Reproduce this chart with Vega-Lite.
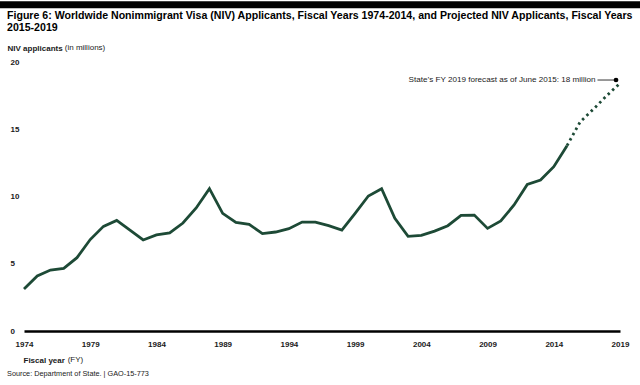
{
  "$schema": "https://vega.github.io/schema/vega-lite/v6.json",
  "width": 596,
  "height": 269,
  "autosize": {"type": "none"},
  "padding": {"left": 24, "top": 62, "right": 20, "bottom": 54},
  "background": "white",
  "config": {
    "view": {"stroke": null},
    "font": "Liberation Sans"
  },
  "title": {
    "text": ["Figure 6: Worldwide Nonimmigrant Visa (NIV) Applicants, Fiscal Years 1974-2014, and Projected NIV Applicants, Fiscal Years", "2015-2019"],
    "anchor": "start",
    "frame": "group",
    "dx": -17,
    "dy": 46,
    "offset": 14,
    "fontSize": 10.6,
    "fontWeight": "bold",
    "lineHeight": 11.5,
    "color": "#000000",
    "font": "Liberation Sans"
  },
  "datasets": {
    "niv": [
      {"year": 1974, "value": 3.12, "type": "actual"},
      {"year": 1975, "value": 4.09, "type": "actual"},
      {"year": 1976, "value": 4.53, "type": "actual"},
      {"year": 1977, "value": 4.66, "type": "actual"},
      {"year": 1978, "value": 5.45, "type": "actual"},
      {"year": 1979, "value": 6.8, "type": "actual"},
      {"year": 1980, "value": 7.78, "type": "actual"},
      {"year": 1981, "value": 8.22, "type": "actual"},
      {"year": 1982, "value": 7.5, "type": "actual"},
      {"year": 1983, "value": 6.77, "type": "actual"},
      {"year": 1984, "value": 7.14, "type": "actual"},
      {"year": 1985, "value": 7.29, "type": "actual"},
      {"year": 1986, "value": 8.03, "type": "actual"},
      {"year": 1987, "value": 9.15, "type": "actual"},
      {"year": 1988, "value": 10.58, "type": "actual"},
      {"year": 1989, "value": 8.75, "type": "actual"},
      {"year": 1990, "value": 8.08, "type": "actual"},
      {"year": 1991, "value": 7.93, "type": "actual"},
      {"year": 1992, "value": 7.24, "type": "actual"},
      {"year": 1993, "value": 7.36, "type": "actual"},
      {"year": 1994, "value": 7.61, "type": "actual"},
      {"year": 1995, "value": 8.1, "type": "actual"},
      {"year": 1996, "value": 8.1, "type": "actual"},
      {"year": 1997, "value": 7.83, "type": "actual"},
      {"year": 1998, "value": 7.5, "type": "actual"},
      {"year": 1999, "value": 8.75, "type": "actual"},
      {"year": 2000, "value": 10.04, "type": "actual"},
      {"year": 2001, "value": 10.58, "type": "actual"},
      {"year": 2002, "value": 8.38, "type": "actual"},
      {"year": 2003, "value": 7.04, "type": "actual"},
      {"year": 2004, "value": 7.11, "type": "actual"},
      {"year": 2005, "value": 7.43, "type": "actual"},
      {"year": 2006, "value": 7.83, "type": "actual"},
      {"year": 2007, "value": 8.6, "type": "actual"},
      {"year": 2008, "value": 8.62, "type": "actual"},
      {"year": 2009, "value": 7.63, "type": "actual"},
      {"year": 2010, "value": 8.18, "type": "actual"},
      {"year": 2011, "value": 9.37, "type": "actual"},
      {"year": 2012, "value": 10.9, "type": "actual"},
      {"year": 2013, "value": 11.23, "type": "actual"},
      {"year": 2014, "value": 12.22, "type": "actual"},
      {"year": 2015, "value": 13.78, "type": "actual"},
      {"year": 2015, "value": 13.78, "type": "projected"},
      {"year": 2016, "value": 15.56, "type": "projected"},
      {"year": 2017, "value": 16.5, "type": "projected"},
      {"year": 2018, "value": 17.5, "type": "projected"},
      {"year": 2019, "value": 18.42, "type": "projected"}
    ],
    "forecast": [
      {"year": 2018.7, "value": 18.66, "label_year": 2017.15, "leader_start": 2017.3, "label": "State’s FY 2019 forecast as of June 2015: 18 million"}
    ],
    "notes": [
      {"year": 1977.3, "value": -2.15, "text": "(FY)", "size": 8},
      {"year": 1977.08, "value": 21.04, "text": "(in millions)", "size": 8},
      {"year": 1972.72, "value": -3.2, "text": "Source: Department of State.  |  GAO-15-773", "size": 7.3}
    ],
    "band": [
      {"x1": 1972.1, "x2": 2020.6, "value": 24.25}
    ]
  },
  "layer": [
    {
      "data": {"name": "band"},
      "mark": {"type": "rule", "color": "#000000", "strokeWidth": 7, "clip": false},
      "encoding": {
        "x": {"field": "x1", "type": "quantitative", "scale": {"domain": [1974, 2019], "nice": false, "zero": false}},
        "x2": {"field": "x2"},
        "y": {"field": "value", "type": "quantitative", "scale": {"domain": [0, 20], "nice": false}}
      }
    },
    {
      "data": {"name": "niv"},
      "transform": [{"filter": "datum.type === 'actual'"}],
      "mark": {"type": "line", "color": "#1d4a36", "strokeWidth": 2.8, "strokeJoin": "miter", "clip": false},
      "encoding": {
        "x": {
          "field": "year", "type": "quantitative",
          "scale": {"domain": [1974, 2019], "nice": false, "zero": false},
          "axis": {
            "values": [1974, 1979, 1984, 1989, 1994, 1999, 2004, 2009, 2014, 2019],
            "format": "d",
            "title": "Fiscal year",
            "titleFontWeight": "bold",
            "titleFontSize": 8,
            "titleColor": "#1a1a1a",
            "titleAnchor": "start",
            "titleAlign": "left",
            "titleBaseline": "middle",
            "titleX": -1,
            "titleY": 29,
            "labelFontSize": 8,
            "labelFontWeight": "bold",
            "labelColor": "#1a1a1a",
            "labelPadding": 13,
            "labelBaseline": "middle",
            "labelFlush": false,
            "labelOverlap": false,
            "ticks": false,
            "grid": false,
            "domainColor": "#000000",
            "domainWidth": 2.5
          }
        },
        "y": {
          "field": "value", "type": "quantitative",
          "scale": {"domain": [0, 20], "nice": false},
          "axis": {
            "values": [0, 5, 10, 15, 20],
            "title": "NIV applicants",
            "titleFontWeight": "bold",
            "titleFontSize": 8,
            "titleColor": "#1a1a1a",
            "titleAngle": 0,
            "titleAlign": "left",
            "titleBaseline": "middle",
            "titleX": -17,
            "titleY": -14,
            "labelFontSize": 8,
            "labelFontWeight": "bold",
            "labelColor": "#1a1a1a",
            "labelAlign": "left",
            "labelBaseline": "middle",
            "labelPadding": 14,
            "ticks": false,
            "domain": false,
            "grid": false
          }
        }
      }
    },
    {
      "data": {"name": "niv"},
      "transform": [{"filter": "datum.type === 'projected'"}],
      "mark": {"type": "line", "color": "#1d4a36", "strokeWidth": 2.8, "strokeDash": [2.5, 3.5], "clip": false},
      "encoding": {
        "x": {"field": "year", "type": "quantitative"},
        "y": {"field": "value", "type": "quantitative"}
      }
    },
    {
      "data": {"name": "forecast"},
      "mark": {"type": "rule", "color": "#000000", "strokeWidth": 0.8},
      "encoding": {
        "x": {"field": "leader_start", "type": "quantitative"},
        "x2": {"field": "year"},
        "y": {"field": "value", "type": "quantitative"}
      }
    },
    {
      "data": {"name": "forecast"},
      "mark": {"type": "point", "filled": true, "color": "#000000", "size": 22, "opacity": 1},
      "encoding": {
        "x": {"field": "year", "type": "quantitative"},
        "y": {"field": "value", "type": "quantitative"}
      }
    },
    {
      "data": {"name": "forecast"},
      "mark": {"type": "text", "align": "right", "baseline": "middle", "fontSize": 8.1, "color": "#1a1a1a"},
      "encoding": {
        "x": {"field": "label_year", "type": "quantitative"},
        "y": {"field": "value", "type": "quantitative"},
        "text": {"field": "label"}
      }
    },
    {
      "data": {"name": "notes"},
      "mark": {"type": "text", "align": "left", "baseline": "middle", "color": "#1a1a1a", "clip": false},
      "encoding": {
        "x": {"field": "year", "type": "quantitative"},
        "y": {"field": "value", "type": "quantitative"},
        "text": {"field": "text"},
        "size": {"field": "size", "type": "quantitative", "scale": null}
      }
    }
  ]
}
